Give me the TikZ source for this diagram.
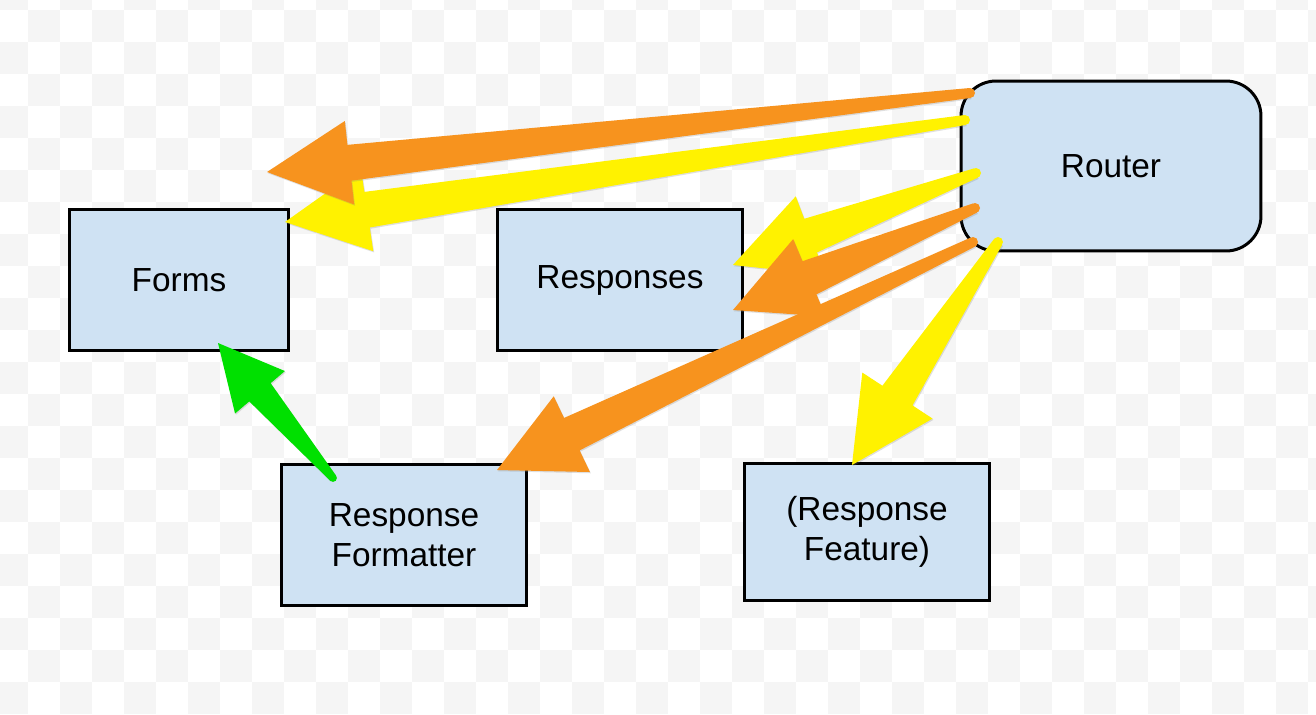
\documentclass[tikz,border=0pt]{standalone}
\usepackage{fontspec}
\setmainfont{Liberation Sans}
\usetikzlibrary{calc, shadows}
\definecolor{cbox}{HTML}{CFE2F3}
\definecolor{corange}{HTML}{F7931E}
\definecolor{cyellow}{HTML}{FFF200}
\definecolor{cgreen}{HTML}{00E000}
\definecolor{cchecker}{HTML}{F5F5F5}
\tikzset{
  every picture/.style={line width=1.7pt},
  box/.style={draw=black, fill=cbox, align=center, inner sep=0pt, minimum width=#1, minimum height=2.82cm, font=\fontsize{19}{22.7}\selectfont},
  box/.default=4.9cm,
  fatshadow/.style={drop shadow={shadow xshift=0.5pt, shadow yshift=-0.7pt, opacity=0.25}},
}
% tapered arrow: [size]{colour}{from}{to}
\newcommand{\fatarrow}[4][1]{%
  \coordinate (fa-b) at ($(#4)!#1*1.66cm!(#3)$);
  \fill[#2, fatshadow] ($(#3)!#1*0.1cm!90:(#4)$) -- ($(fa-b)!#1*0.36cm!90:(#4)$)
    -- ($(fa-b)!#1*0.84cm!90:(#4)$) -- (#4) -- ($(fa-b)!#1*0.84cm!-90:(#4)$)
    -- ($(fa-b)!#1*0.36cm!-90:(#4)$) -- ($(#3)!#1*0.1cm!-90:(#4)$) -- cycle;
  \fill[#2] (#3) circle[radius=#1*0.1cm];
}

\begin{document}
\begin{tikzpicture}[x=0.02cm, y=-0.02cm]
  \useasboundingbox (0,0) rectangle (1316,714);
  % checkered background
  \begin{scope}
    \clip (0,0) rectangle (1316,714);
    \fill[white] (0,0) rectangle (1316,714);
    \foreach \c in {0,...,41} {
      \foreach \r in {0,...,22} {
        \pgfmathtruncatemacro\odd{mod(\c+\r,2)}
        \ifnum\odd=0 \fill[cchecker] (32*\c-4,32*\r-22) rectangle +(32,32); \fi
      }
    }
  \end{scope}
  % boxes
  \node[box, minimum width=6cm, minimum height=3.4cm, rounded corners=0.7cm] (router) at (1111,166) {Router};
  \node[box=4.38cm] (forms) at (179,280) {Forms};
  \node[box] (responses) at (620,280) {Responses};
  \node[box] (formatter) at (404,535) {Response\\Formatter};
  \node[box, minimum height=2.74cm] (feature) at (867,532) {(Response\\Feature)};
  % arrow ends
  \coordinate (s-forms-o) at (970,93);   \coordinate (t-forms-o) at (267,172);
  \coordinate (s-forms-y) at (965,120);  \coordinate (t-forms-y) at (285,222);
  \coordinate (s-resp-y) at (976,173);   \coordinate (t-resp-y) at (733,265);
  \coordinate (s-resp-o) at (975,208);   \coordinate (t-resp-o) at (733,310);
  \coordinate (s-fmt-o) at (973,242);    \coordinate (t-fmt-o) at (497,470);
  \coordinate (s-feat-y) at (998,242);   \coordinate (t-feat-y) at (852,465);
  \coordinate (s-forms-g) at (333,478);  \coordinate (t-forms-g) at (218,343);
  % arrows
  \fatarrow{cyellow}{s-forms-y}{t-forms-y}
  \fatarrow{cyellow}{s-resp-y}{t-resp-y}
  \fatarrow{cyellow}{s-feat-y}{t-feat-y}
  \fatarrow{corange}{s-forms-o}{t-forms-o}
  \fatarrow{corange}{s-resp-o}{t-resp-o}
  \fatarrow{corange}{s-fmt-o}{t-fmt-o}
  \fatarrow[0.78]{cgreen}{s-forms-g}{t-forms-g}
\end{tikzpicture}
\end{document}
